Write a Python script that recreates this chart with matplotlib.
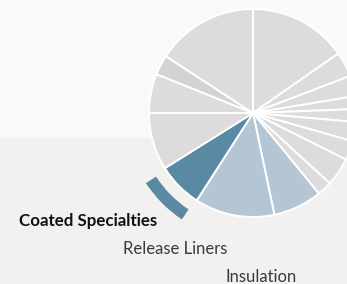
import matplotlib
matplotlib.use("Agg")
import matplotlib.pyplot as plt
from matplotlib.patches import Rectangle, Wedge

# Anteli segmentov (v %), v smeri urinega kazalca od vrha
categories = ["Other A", "Other B", "Other C", "Other D", "Other E", "Other F",
              "Other G", "Other H", "Other I", "Insulation", "Release Liners",
              "Coated Specialties", "Other J", "Other K", "Other L", "Other M"]
shares = [15.3, 3.9, 3.2, 2.0, 2.0, 3.0, 3.0, 4.4, 2.3, 7.6, 12.4, 7.0,
          8.9, 6.1, 3.1, 15.8]
selected = "Coated Specialties"
highlighted = ["Release Liners", "Insulation"]
label_order = ["Coated Specialties", "Release Liners", "Insulation"]

GREY = "#dddbdb"
DARK_GREY = "#d5d3d1"
DARK_BLUE = "#5a89a4"
LIGHT_BLUE = "#b4c6d3"

colors = []
for c in categories:
    if c == selected:
        colors.append(DARK_BLUE)
    elif c in highlighted:
        colors.append(LIGHT_BLUE)
    elif c == "Other L":
        colors.append(DARK_GREY)
    else:
        colors.append(GREY)

W, H = 347, 284
fig = plt.figure(figsize=(W / 100, H / 100), dpi=100)
fig.patch.set_facecolor("#f9f9f9")
ax = fig.add_axes([0, 0, 1, 1])

# ozadje: svetel zgornji del, nekoliko temnejši spodnji pas
ax.add_patch(Rectangle((0, 0), W, 146, facecolor="#f3f1f0", edgecolor="none", zorder=0))
ax.add_patch(Rectangle((0, 146), W, H - 146, facecolor="#f9f9f9", edgecolor="none", zorder=0))

center = (253, 171)
radius = 104
wedges, _ = ax.pie(shares, colors=colors, startangle=90, counterclock=False,
                   center=center, radius=radius,
                   wedgeprops=dict(edgecolor="white", linewidth=1.4))

# obroč ob izbranem segmentu
sel = wedges[categories.index(selected)]
ax.add_patch(Wedge(center, 128, sel.theta1 + 1.2, sel.theta2 - 1.0, width=12,
                   facecolor=DARK_BLUE, edgecolor="none"))

# oznake
label_pos = [(19, H - 226), (123, H - 254), (226, H - 282)]
for name, (x, y) in zip(label_order, label_pos):
    if name == selected:
        ax.text(x, y, name, fontsize=12.2, fontweight="bold", color="#111111",
                family="Lato", va="baseline", ha="left")
    else:
        ax.text(x, y, name, fontsize=12, fontweight="normal", color="#3a3a3a",
                family="Lato", va="baseline", ha="left")

ax.set_xlim(0, W)
ax.set_ylim(0, H)
ax.set_aspect("equal")
ax.axis("off")

fig.savefig("out.png", dpi=100, facecolor=fig.get_facecolor())
